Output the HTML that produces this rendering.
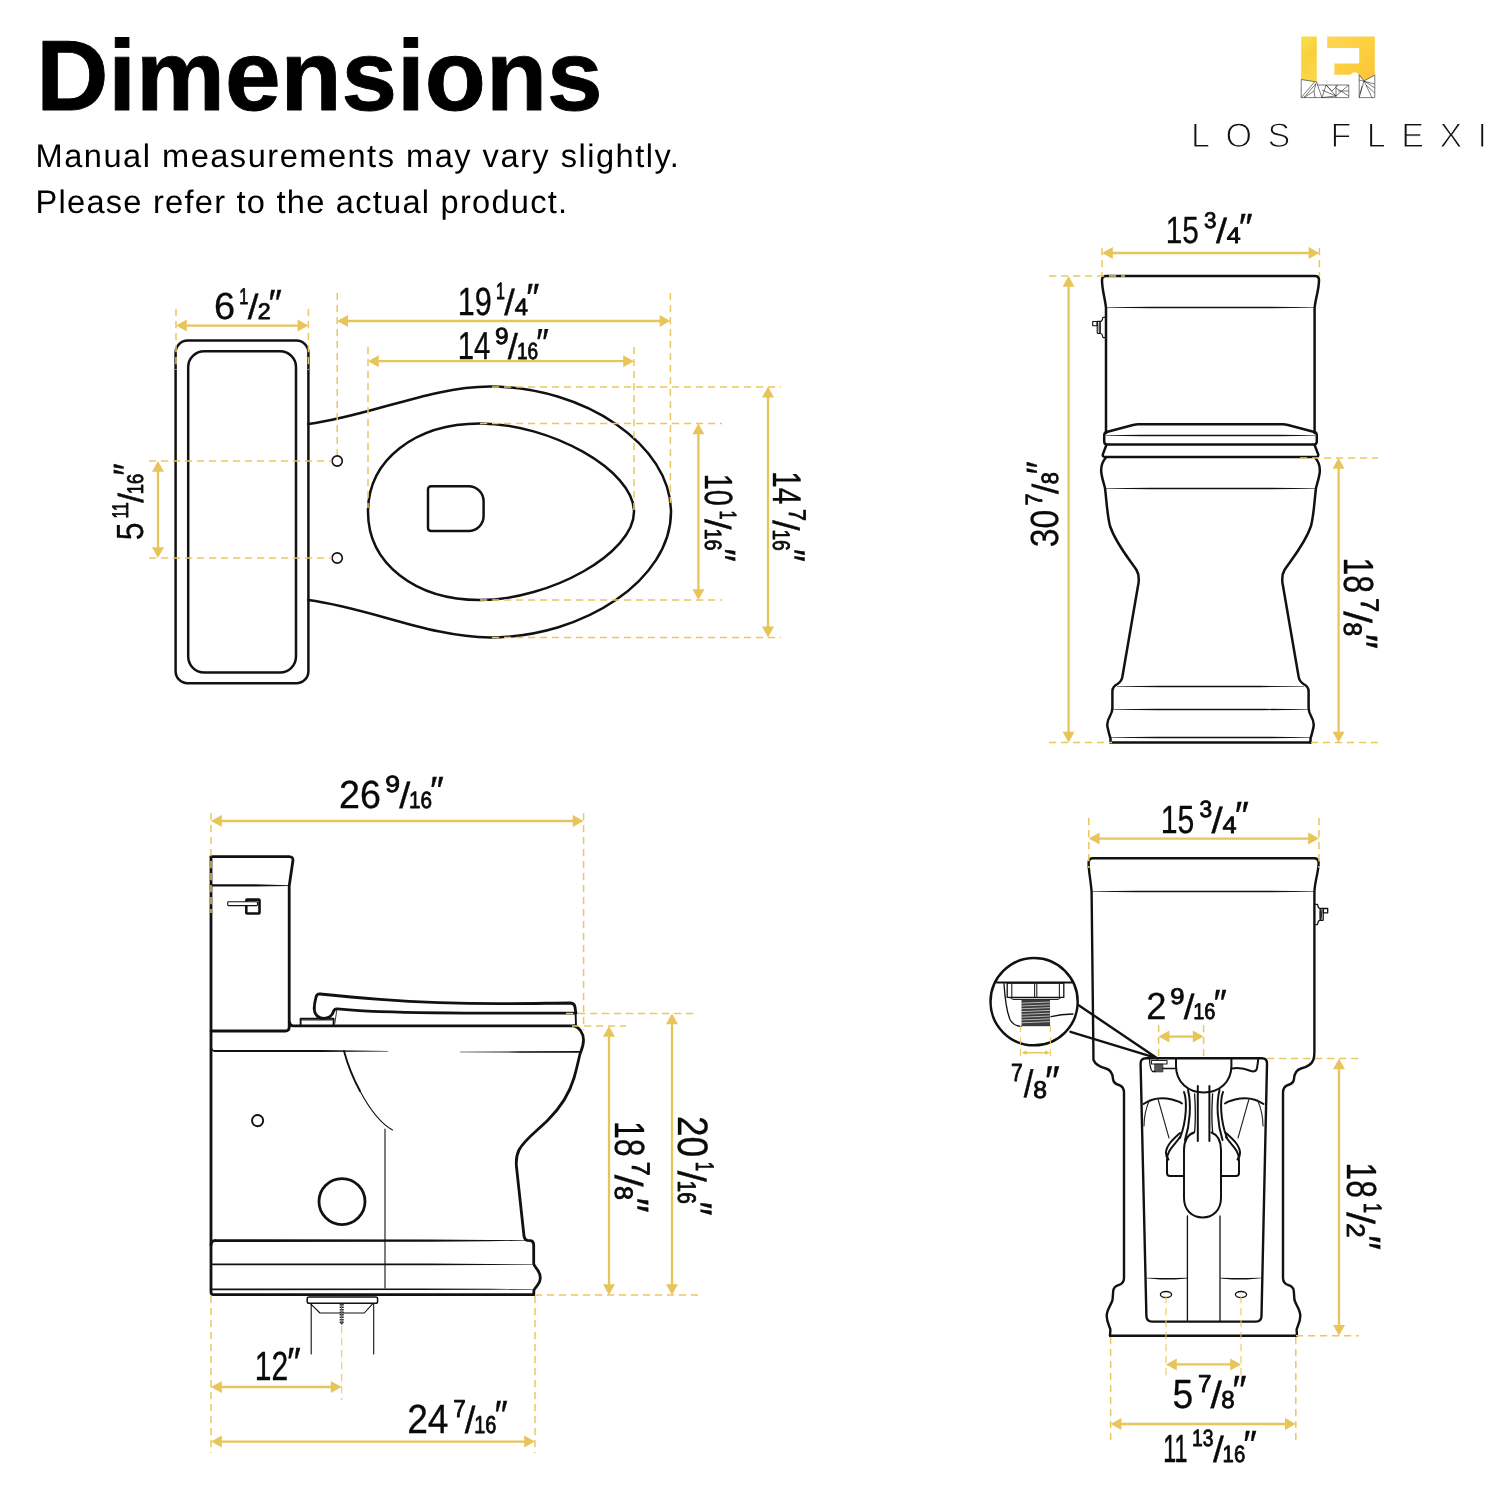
<!DOCTYPE html>
<html lang="en">
<head>
<meta charset="utf-8">
<title>Dimensions</title>
<style>
html,body{margin:0;padding:0;background:#fff;}
body{width:1500px;height:1500px;overflow:hidden;font-family:"Liberation Sans",sans-serif;}
svg{display:block;will-change:transform;transform:translateZ(0);}
text{font-family:"Liberation Sans",sans-serif;fill:#000;text-rendering:geometricPrecision;}
.dim{fill:#0a0a0a;}
.sm{stroke:#0a0a0a;stroke-width:0.85;stroke-linejoin:round;}
.sl{stroke:#0a0a0a;stroke-width:0.4;}
.thin{fill:#111;stroke:#fff;paint-order:fill stroke;}
.o{fill:none;stroke:#111;stroke-width:2.5;stroke-linejoin:round;stroke-linecap:round;}
.m{fill:none;stroke:#111;stroke-width:1.6;stroke-linejoin:round;stroke-linecap:round;}
.t{fill:none;stroke:#111;stroke-width:1.1;stroke-linejoin:round;stroke-linecap:round;}
.h{fill:none;stroke:#222;stroke-width:0.9;stroke-linejoin:round;stroke-linecap:round;}
#frontview .o{stroke-width:2.5;}
#sideview .o{stroke-width:2.8;}
#rearview .o{stroke-width:2.4;}
#sideview .m{stroke-width:1.9;}
#rearview .m{stroke-width:2.0;}
#rearview .t{stroke-width:1.3;}
#rearview .h{stroke-width:1.1;}
</style>
</head>
<body>
<svg width="1500" height="1500" viewBox="0 0 1500 1500">
<rect width="1500" height="1500" fill="#fff"/>

<text x="36.2" y="109.6" font-size="100" font-weight="bold" letter-spacing="-0.05" stroke="#000" stroke-width="0.9" stroke-linejoin="round">Dimensions</text>
<text x="35.6" y="167" font-size="32.6" letter-spacing="1.5">Manual measurements may vary slightly.</text>
<text x="35.6" y="213" font-size="32.6" letter-spacing="1.25">Please refer to the actual product.</text>
<defs>
<linearGradient id="g1" x1="0" y1="0" x2="0.3" y2="1"><stop offset="0" stop-color="#f7e24a"/><stop offset="0.5" stop-color="#f9cf3c"/><stop offset="1" stop-color="#fbd648"/></linearGradient>
<linearGradient id="g2" x1="0" y1="0" x2="1" y2="1"><stop offset="0" stop-color="#ffd654"/><stop offset="0.5" stop-color="#fcd040"/><stop offset="1" stop-color="#fcc336"/></linearGradient>
</defs>
<path d="M1301.2,36.4H1316.8V82L1301.2,79.5Z" fill="url(#g1)"/>
<path d="M1327.2,36.4H1374.8V75.2L1364,80.8L1356.8,72.4H1352.8L1350.4,74.8H1334.4V63.6H1359.2V48H1327.2Z" fill="url(#g2)"/>
<g fill="none" stroke="#222" stroke-width="0.6" stroke-linejoin="round"><path d="M1301.2,79.5L1316.8,82L1317.5,85H1348.8V97.6H1301.2Z"/><path d="M1301.2,97.6L1314.5,82M1304,97.6L1316,83.5M1304,97.6L1314,91L1316,83.5M1314,91L1315,97.6M1317.5,85L1322,97.6M1322,97.6L1326,85M1326,85L1336,96L1322,90M1322,97.6L1336,96M1336,85V97.6M1336,96L1348.8,85M1336,88L1348.8,96M1338,91L1348.8,91M1326,85L1332,91L1338,85"/><path d="M1359.2,74.8V97.6H1374.8V75.2L1364,80.8L1359.2,74.8Z"/><path d="M1359.2,97.6L1364,80.8L1372,97.6M1364,80.8L1374.8,88M1359.2,80L1374.8,84M1366,85L1374.8,93M1360,94L1362,86"/></g>
<text x="1191" y="146.6" font-size="34.2" letter-spacing="15.4" class="thin" stroke-width="1.15">LOS FLEXI</text>
<g id="topview">
<rect class="o" x="175.6" y="340.6" width="132.8" height="342.6" rx="12" ry="12"/>
<rect class="o" x="188.2" y="351.2" width="107.8" height="321.4" rx="16" ry="16"/>
<path class="o" d="M308.4,424C370,416 430,386.6 490,386.6C585,386.6 671,445 671,512C671,579 585,637.4 490,637.4C430,637.4 370,608 308.4,600"/>
<path class="o" d="M368,511.7C368,460 415,423.4 480,423.4C550,423.4 634,470 634,511.7C634,553.4 550,600 480,600C415,600 368,563.4 368,511.7Z"/>
<path class="o" d="M431,486.3H468.6A15,15 0 0 1 483.6,501.3V516A15,15 0 0 1 468.6,531H431A3,3 0 0 1 428,528V489.3A3,3 0 0 1 431,486.3Z"/>
<circle class="m" cx="337.2" cy="461" r="5.1" stroke-width="2.2"/><circle class="m" cx="337.2" cy="558" r="5.1" stroke-width="2.2"/>
</g>
<g id="frontview">
<path class="o" d="M1106,433V308C1105,298 1102,290 1102,280Q1102,276 1106,276H1315Q1319,276 1319,280C1319,290 1315.5,298 1314.6,308V433"/>
<polygon points="1106.0,307.27 1151.0,306.80 1269.6,306.80 1314.6,307.27 1314.6,307.73 1269.6,308.20 1151.0,308.20 1106.0,307.73" fill="#111"/>
<path class="t" stroke-width="1.2" d="M1105.5,317.4H1103.2Q1102.4,317.6 1102.4,319.4Q1102.3,321 1100.2,321.6M1105.5,337.6H1103.3Q1102.6,337.4 1102.5,335.6Q1102.3,333.8 1100.2,333.2"/><rect class="t" stroke-width="1.2" x="1097.2" y="321.4" width="3" height="12" rx="0.6"/><ellipse class="h" cx="1099.6" cy="327.5" rx="0.6" ry="5.2"/><rect class="t" stroke-width="1.5" x="1092.7" y="321.5" width="4.4" height="4.3"/>
<path class="o" d="M1106.6,432L1134,424.8Q1136,424.2 1138,424.2H1283Q1285,424.2 1287,424.8L1314.4,432"/>
<path class="o" d="M1106.6,432Q1104.2,432.6 1104.2,435.5V441.5Q1104.2,444.4 1107,444.4H1314Q1316.8,444.4 1316.8,441.5V435.5Q1316.8,432.6 1314.4,432"/>
<polygon points="1106.0,435.27 1141.0,434.80 1280.0,434.80 1315.0,435.27 1315.0,435.73 1280.0,436.20 1141.0,436.20 1106.0,435.73" fill="#111"/>
<path class="o" d="M1106.3,445.2L1102.8,454.4Q1102.4,456.9 1105,456.9H1316Q1318.6,456.9 1318.2,454.4L1314.7,445.2"/>
<path class="o" d="M1106,457.5C1102,462 1100.5,468 1101.5,474C1102.5,480 1104,484 1105,488C1106.5,500 1107,514 1110,526C1116,544 1130,560 1136.5,570Q1139.5,575 1138.5,583L1122.5,676Q1122,681 1117.5,684Q1112.6,686.5 1112.4,691V708Q1112.3,712 1110,716Q1106.5,722 1107.5,727Q1109,734 1110.5,738.5V742.4M1315,457.5C1319,462 1320.5,468 1319.5,474C1318.5,480 1317,484 1316,488C1314.5,500 1314,514 1311,526C1305,544 1291,560 1284.5,570Q1281.5,575 1282.5,583L1298.5,676Q1299,681 1303.5,684Q1308.4,686.5 1308.6,691V708Q1308.7,712 1311,716Q1314.5,722 1313.5,727Q1312,734 1310.5,738.5V742.4"/>
<polygon points="1105.0,488.27 1150.0,487.80 1271.0,487.80 1316.0,488.27 1316.0,488.73 1271.0,489.20 1150.0,489.20 1105.0,488.73" fill="#111"/>
<polygon points="1117.0,686.27 1162.0,685.80 1259.0,685.80 1304.0,686.27 1304.0,686.73 1259.0,687.20 1162.0,687.20 1117.0,686.73" fill="#111"/>
<polygon points="1112.5,709.27 1157.5,708.80 1263.5,708.80 1308.5,709.27 1308.5,709.73 1263.5,710.20 1157.5,710.20 1112.5,709.73" fill="#111"/>
<polygon points="1111.0,737.27 1156.0,736.80 1265.0,736.80 1310.0,737.27 1310.0,737.73 1265.0,738.20 1156.0,738.20 1111.0,737.73" fill="#111"/>
<path class="o" d="M1110.5,742.6H1310.5" stroke-width="2"/>
</g>
<g id="sideview">
<path class="o" d="M211,856.6H289.2Q293.3,856.6 292.9,860.8L289.2,886V1027.5Q289,1031 285.5,1031H211"/>
<path class="o" d="M211,856.6V1292Q211,1294.7 213.5,1294.7H533.5"/>
<polygon points="211.0,884.25 255.0,884.35 289.0,885.30 289.0,885.90 255.0,886.45 211.0,886.55" fill="#111"/>
<rect x="246.3" y="899.6" width="13.2" height="13.9" rx="0.8" fill="#fff" stroke="#111" stroke-width="2.6"/>
<rect x="227.7" y="901.7" width="29.8" height="3.9" rx="0.8" fill="#fff" stroke="#111" stroke-width="1.1"/>
<path class="o" d="M289.6,1022.5Q290,1025.8 293,1025.8H574"/>
<path class="m" d="M211,1047Q211.5,1051 215,1051"/>
<polygon points="214.5,1050.05 320.0,1050.05 388.0,1051.00 388.0,1051.40 320.0,1051.95 214.5,1051.95" fill="#111"/>
<polygon points="460.0,1051.80 520.0,1051.30 580.0,1050.95 580.0,1052.65 520.0,1052.70 460.0,1052.20" fill="#111"/>
<path class="m" d="M300.6,1025V1018.8H333.6V1025"/><path class="t" d="M302,1020.3H332" stroke-opacity="0.6"/>
<path class="o" d="M314.2,1008C314.5,1003 315.5,999 316.2,996.5Q317,993.8 320,994C340,996 360,997.8 380,999.3C420,1002.3 460,1003.6 500,1003.6C530,1003.6 555,1003 570.5,1003Q574.4,1003.2 575,1007L575.8,1012.8"/>
<path class="o" d="M314.2,1008C314,1014 318,1018.4 323.5,1018.4C329,1018.4 332.5,1015 333.5,1011.5Q334.3,1008.6 337,1008.8C350,1009.8 365,1011 380,1011.7C420,1013 460,1013.2 500,1013.2H576"/>
<path class="h" d="M336.8,1010L334.8,1023.5"/>
<path class="m" d="M575.6,1013L576,1025.6" stroke-width="1.5"/>
<path class="o" d="M574,1025.8C579,1027 583.5,1033 583.5,1040C583.5,1046 581.5,1050 580,1054C578,1062 577,1068 574,1078C569,1095 560,1108 548,1120C538,1130 524,1140 519,1150Q515.5,1157 516.5,1167L524,1236Q524.4,1239.8 527.5,1240.3L530.5,1240.6Q533.7,1241 533.7,1245V1263.5C534,1267.5 540.3,1270 540.3,1277.6C540.3,1285 534.6,1287 533.9,1290.5L533.7,1294.6"/>
<path class="m" d="M344,1051C348,1066 354,1080 360,1091" stroke-width="1.7"/><path class="t" d="M360,1091C368,1106 378,1122 392.5,1130"/>
<path class="t" d="M385,1129V1288"/>
<circle class="m" cx="257.6" cy="1120.6" r="5.6"/>
<circle class="o" cx="342" cy="1201.6" r="23"/>
<path class="o" d="M211,1245Q211.3,1240.6 215,1240.6"/>
<polygon points="214.5,1239.30 430.0,1239.40 490.0,1240.05 526.0,1240.15 526.0,1240.65 490.0,1241.15 430.0,1241.80 214.5,1241.90" fill="#111"/>
<polygon points="211.0,1263.45 430.0,1263.55 490.0,1263.90 533.0,1264.00 533.0,1264.60 490.0,1264.90 430.0,1265.25 211.0,1265.35" fill="#111"/>
<polygon points="212.0,1288.45 420.0,1288.50 490.0,1288.85 535.0,1288.95 535.0,1289.45 490.0,1289.75 420.0,1290.10 212.0,1290.15" fill="#111"/>
<rect x="307.2" y="1296.9" width="70.4" height="6.3" rx="1.8" fill="#fff" stroke="#111" stroke-width="1.5"/>
<path class="t" stroke-width="1.3" d="M310.6,1303.8L320,1313H364.3L372.6,1303.8"/>
<path class="t" stroke-width="1.1" d="M311.2,1304V1354M373.7,1304V1354"/>
<path d="M341.7,1304V1323.2" stroke="#222" stroke-width="4" stroke-dasharray="1.5 1" fill="none"/><path d="M340.2,1323L341.7,1325L343.2,1323Z" fill="#333"/><path d="M341.7,1304V1323" stroke="#777" stroke-width="1.2" fill="none"/>
</g>
<g id="rearview">
<path class="o" d="M1110,1335.8H1297"/>
<path class="o" d="M1110,1335.8L1110.4,1329.5C1109.5,1326 1106.7,1322 1106.7,1316C1106.7,1309 1112,1304 1112.6,1299.5L1113.2,1291Q1113.6,1286.8 1118.5,1285.2Q1124,1283.5 1124,1278V1093Q1124,1086.5 1119,1085Q1113.5,1083.5 1113,1079Q1112.5,1070.5 1106,1068.5Q1096,1066 1093.5,1060Q1093.4,1057 1093.4,1052L1091.6,892C1090.8,880 1088.6,872 1088.6,863Q1088.6,858.3 1093,858.3H1314Q1318.6,858.3 1318.6,863C1318.6,872 1315,880 1314.4,892V1052Q1314.4,1057 1313.3,1060Q1311,1066 1301,1068.5Q1294.5,1070.5 1294,1079Q1293.5,1083.5 1288,1085Q1283,1086.5 1283,1093V1278Q1283,1283.5 1288.5,1285.2Q1293.4,1286.8 1293.8,1291L1294.4,1299.5C1295,1304 1300.3,1309 1300.3,1316C1300.3,1322 1297.5,1326 1296.6,1329.5L1297,1335.8"/>
<polygon points="1092.0,891.27 1137.0,890.80 1269.4,890.80 1314.4,891.27 1314.4,891.73 1269.4,892.20 1137.0,892.20 1092.0,891.73" fill="#111"/>
<g transform="translate(2420.4,587) scale(-1,1)"><path class="t" stroke-width="1.2" d="M1105.5,317.4H1103.2Q1102.4,317.6 1102.4,319.4Q1102.3,321 1100.2,321.6M1105.5,337.6H1103.3Q1102.6,337.4 1102.5,335.6Q1102.3,333.8 1100.2,333.2"/><rect class="t" stroke-width="1.2" x="1097.2" y="321.4" width="3" height="12" rx="0.6"/><ellipse class="h" cx="1099.6" cy="327.5" rx="0.6" ry="5.2"/><rect class="t" stroke-width="1.5" x="1092.7" y="321.5" width="4.4" height="4.3"/></g>
<path class="o" d="M1146,1058.2H1262Q1267.2,1058.2 1267,1064L1261.5,1316Q1261.3,1321.6 1256,1321.6H1152Q1146.6,1321.6 1146.4,1316L1140.6,1064Q1140.5,1058.2 1146,1058.2Z"/>
<path d="M1154.5,1064H1163V1072H1154.5Z" fill="#555" stroke="#333" stroke-width="0.6"/>
<path class="h" d="M1151.5,1060.5H1167V1064H1151.5Z"/>
<path class="t" d="M1149.5,1059C1149.8,1066 1150.5,1070 1152.5,1071.5H1155M1163,1068.5H1176"/>
<path class="m" d="M1176,1059V1066C1176,1082 1188,1092.4 1203.6,1092.4C1219.5,1092.4 1231.4,1082 1231.4,1066V1059"/>
<path class="m" d="M1232,1068.5C1240,1067 1246,1069 1251,1071C1254,1072 1256.5,1071 1257,1068C1257.8,1064 1258,1061 1258.2,1059"/>
<path class="m" d="M1197.8,1086V1141M1209.4,1086V1141"/>
<path class="t" d="M1194.6,1094C1195.5,1108 1195.5,1122 1194.6,1132M1212.6,1094C1211.7,1108 1211.7,1122 1212.6,1132"/>
<path class="m" d="M1184,1092C1187,1100 1187,1120 1180,1138M1223,1092C1220,1100 1220,1120 1227,1138"/>
<path class="m" d="M1188,1090C1191.5,1104 1190,1124 1185,1140M1219.5,1090C1216,1104 1217.5,1124 1222.5,1140"/>
<path class="m" d="M1194,1132.5C1187,1135 1184,1141 1184,1150V1198C1184,1210 1192,1217.4 1202.6,1217.4C1213,1217.4 1221,1210 1221,1198V1150C1221,1141 1218,1135 1211.5,1132.5"/>
<path class="m" d="M1184,1176H1170Q1167,1176 1167,1173V1160C1167,1150 1174,1146 1180,1137M1221,1176H1236Q1239,1176 1239,1173V1160C1239,1150 1232,1146 1226,1137"/>
<path class="m" d="M1180,1133C1172,1140 1166,1146 1166,1153C1166,1156 1167,1158 1168.5,1159.5M1226,1133C1234,1140 1240,1146 1240,1153C1240,1156 1239,1158 1237.5,1159.5"/>
<path class="m" d="M1143.5,1104C1152,1098 1162,1097 1172,1099.5C1176,1100.5 1180,1102 1182,1103.5M1263.5,1104C1255,1098 1245,1097 1235,1099.5C1231,1100.5 1227,1102 1225,1103.5"/>
<path class="h" d="M1149.5,1100C1146,1108 1144,1116 1144,1126M1158,1099L1169,1138M1257.5,1100C1261,1108 1263,1116 1263,1126M1249,1099L1238,1138"/>
<path class="t" d="M1187.4,1216V1321M1220,1216V1321"/>
<polygon points="1146.5,1277.80 1160.0,1277.95 1175.0,1277.95 1187.0,1277.80 1187.0,1278.60 1175.0,1279.45 1160.0,1279.45 1146.5,1278.20" fill="#111"/>
<polygon points="1220.5,1277.80 1232.0,1277.95 1247.0,1277.95 1261.0,1277.80 1261.0,1278.20 1247.0,1279.45 1232.0,1279.45 1220.5,1278.60" fill="#111"/>
<ellipse class="t" cx="1166" cy="1294.6" rx="5.6" ry="3.1"/><ellipse class="t" cx="1241" cy="1294.6" rx="5.6" ry="3.1"/>
<circle cx="1034.1" cy="1001.7" r="43.6" fill="#fff" stroke="#111" stroke-width="2.5"/>
<path class="o" d="M1078.3,1005L1157.5,1058.4L1070.5,1031.8"/>
<path class="m" d="M997,982.6H1071.6"/>
<path class="t" d="M1007.2,983H1063.8V997.4H1007.2Z"/>
<path class="h" d="M1011.8,984V997M1034.6,984V997M1036.8,984V997M1059.4,984V997M1010,997.6L1013,999.4H1058L1061,997.6"/>
<path d="M1021.5,999.6H1050V1026.2H1021.5Z" fill="#3a3a3a"/>
<path d="M1021,1003.2L1050.5,1002M1021,1006L1050.5,1004.8M1021,1008.8L1050.5,1007.6M1021,1011.6L1050.5,1010.4M1021,1014.4L1050.5,1013.2M1021,1017.2L1050.5,1016M1021,1020L1050.5,1018.8M1021,1022.8L1050.5,1021.6" stroke="#d8d8d8" stroke-width="0.8" fill="none"/>
<path class="t" d="M1004,983.6C1005,1000 1007,1012 1010,1019.5C1012.5,1024.5 1016,1026 1021,1026.4M1051,1016.6C1058,1015 1066,1014.2 1073,1014"/>
</g>
<g id="dashes">
<path d="M176.0,309.0L176.0,370.0" stroke="#e9c860" stroke-width="1.5" stroke-dasharray="7.2 4.8" fill="none"/>
<path d="M308.4,309.0L308.4,370.0" stroke="#e9c860" stroke-width="1.5" stroke-dasharray="7.2 4.8" fill="none"/>
<path d="M337.2,293.0L337.2,455.0" stroke="#e9c860" stroke-width="1.5" stroke-dasharray="7.2 4.8" fill="none"/>
<path d="M670.4,293.0L670.4,503.0" stroke="#e9c860" stroke-width="1.5" stroke-dasharray="7.2 4.8" fill="none"/>
<path d="M368.0,347.0L368.0,508.0" stroke="#e9c860" stroke-width="1.5" stroke-dasharray="7.2 4.8" fill="none"/>
<path d="M634.0,347.0L634.0,510.0" stroke="#e9c860" stroke-width="1.5" stroke-dasharray="7.2 4.8" fill="none"/>
<path d="M149.0,461.0L332.0,461.0" stroke="#e9c860" stroke-width="1.5" stroke-dasharray="7.2 4.8" fill="none"/>
<path d="M149.0,558.0L332.0,558.0" stroke="#e9c860" stroke-width="1.5" stroke-dasharray="7.2 4.8" fill="none"/>
<path d="M492.0,386.9L781.0,386.9" stroke="#e9c860" stroke-width="1.5" stroke-dasharray="7.2 4.8" fill="none"/>
<path d="M492.0,637.4L781.0,637.4" stroke="#e9c860" stroke-width="1.5" stroke-dasharray="7.2 4.8" fill="none"/>
<path d="M480.0,423.4L722.0,423.4" stroke="#e9c860" stroke-width="1.5" stroke-dasharray="7.2 4.8" fill="none"/>
<path d="M480.0,600.0L722.0,600.0" stroke="#e9c860" stroke-width="1.5" stroke-dasharray="7.2 4.8" fill="none"/>
<path d="M1102.0,248.0L1102.0,276.0" stroke="#e9c860" stroke-width="1.5" stroke-dasharray="7.2 4.8" fill="none"/>
<path d="M1319.4,248.0L1319.4,276.0" stroke="#e9c860" stroke-width="1.5" stroke-dasharray="7.2 4.8" fill="none"/>
<path d="M1049.0,276.0L1125.0,276.0" stroke="#e9c860" stroke-width="1.5" stroke-dasharray="7.2 4.8" fill="none"/>
<path d="M1049.0,742.6L1112.0,742.6" stroke="#e9c860" stroke-width="1.5" stroke-dasharray="7.2 4.8" fill="none"/>
<path d="M1300.0,458.0L1378.0,458.0" stroke="#e9c860" stroke-width="1.5" stroke-dasharray="7.2 4.8" fill="none"/>
<path d="M1311.0,742.6L1378.0,742.6" stroke="#e9c860" stroke-width="1.5" stroke-dasharray="7.2 4.8" fill="none"/>
<path d="M211.0,813.0L211.0,913.0" stroke="#e9c860" stroke-width="1.5" stroke-dasharray="7.2 4.8" fill="none"/>
<path d="M583.6,813.0L583.6,1030.0" stroke="#e9c860" stroke-width="1.5" stroke-dasharray="7.2 4.8" fill="none"/>
<path d="M566.0,1013.4L698.0,1013.4" stroke="#e9c860" stroke-width="1.5" stroke-dasharray="7.2 4.8" fill="none"/>
<path d="M572.0,1026.0L626.0,1026.0" stroke="#e9c860" stroke-width="1.5" stroke-dasharray="7.2 4.8" fill="none"/>
<path d="M535.0,1295.0L698.0,1295.0" stroke="#e9c860" stroke-width="1.5" stroke-dasharray="7.2 4.8" fill="none"/>
<path d="M211.0,1296.0L211.0,1453.0" stroke="#e9c860" stroke-width="1.5" stroke-dasharray="7.2 4.8" fill="none"/>
<path d="M535.0,1296.0L535.0,1453.0" stroke="#e9c860" stroke-width="1.5" stroke-dasharray="7.2 4.8" fill="none"/>
<path d="M341.7,1326.0L341.7,1400.0" stroke="#e9c860" stroke-width="1.1" stroke-dasharray="7.2 4.8" fill="none"/>
<path d="M1088.8,818.0L1088.8,868.0" stroke="#e9c860" stroke-width="1.5" stroke-dasharray="7.2 4.8" fill="none"/>
<path d="M1319.0,818.0L1319.0,868.0" stroke="#e9c860" stroke-width="1.5" stroke-dasharray="7.2 4.8" fill="none"/>
<path d="M1158.6,1025.0L1158.6,1059.0" stroke="#e9c860" stroke-width="1.5" stroke-dasharray="7.2 4.8" fill="none"/>
<path d="M1203.6,1025.0L1203.6,1059.0" stroke="#e9c860" stroke-width="1.5" stroke-dasharray="7.2 4.8" fill="none"/>
<path d="M1020.4,1025.0L1020.4,1060.0" stroke="#e9c860" stroke-width="1.0" stroke-dasharray="7.2 4.8" fill="none"/>
<path d="M1050.4,1025.0L1050.4,1060.0" stroke="#e9c860" stroke-width="1.0" stroke-dasharray="7.2 4.8" fill="none"/>
<path d="M1267.0,1058.4L1358.0,1058.4" stroke="#e9c860" stroke-width="1.5" stroke-dasharray="7.2 4.8" fill="none"/>
<path d="M1296.0,1335.8L1359.0,1335.8" stroke="#e9c860" stroke-width="1.5" stroke-dasharray="7.2 4.8" fill="none"/>
<path d="M1166.0,1296.0L1166.0,1377.0" stroke="#e9c860" stroke-width="1.1" stroke-dasharray="7.2 4.8" fill="none"/>
<path d="M1241.0,1296.0L1241.0,1377.0" stroke="#e9c860" stroke-width="1.1" stroke-dasharray="7.2 4.8" fill="none"/>
<path d="M1110.6,1337.0L1110.6,1440.0" stroke="#e9c860" stroke-width="1.5" stroke-dasharray="7.2 4.8" fill="none"/>
<path d="M1295.8,1337.0L1295.8,1440.0" stroke="#e9c860" stroke-width="1.5" stroke-dasharray="7.2 4.8" fill="none"/>
</g>
<g id="arrows">
<path d="M185.8,325.6H298.6" stroke="#e8c55a" stroke-width="2.3" fill="none"/>
<path d="M176.0,325.6l10.8,-6.0v12.0z M308.4,325.6l-10.8,-6.0v12.0z" fill="#e8c55a"/>
<path d="M347.0,321.0H660.6" stroke="#e8c55a" stroke-width="2.3" fill="none"/>
<path d="M337.2,321.0l10.8,-6.0v12.0z M670.4,321.0l-10.8,-6.0v12.0z" fill="#e8c55a"/>
<path d="M377.8,361.2H624.2" stroke="#e8c55a" stroke-width="2.3" fill="none"/>
<path d="M368.0,361.2l10.8,-6.0v12.0z M634.0,361.2l-10.8,-6.0v12.0z" fill="#e8c55a"/>
<path d="M158.0,470.8V548.2" stroke="#e8c55a" stroke-width="2.3" fill="none"/>
<path d="M158.0,461.0l-6.0,10.8h12.0z M158.0,558.0l-6.0,-10.8h12.0z" fill="#e8c55a"/>
<path d="M698.4,433.2V590.2" stroke="#e8c55a" stroke-width="2.3" fill="none"/>
<path d="M698.4,423.4l-6.0,10.8h12.0z M698.4,600.0l-6.0,-10.8h12.0z" fill="#e8c55a"/>
<path d="M768.0,396.4V627.6" stroke="#e8c55a" stroke-width="2.3" fill="none"/>
<path d="M768.0,386.6l-6.0,10.8h12.0z M768.0,637.4l-6.0,-10.8h12.0z" fill="#e8c55a"/>
<path d="M1111.8,253.0H1309.6" stroke="#e8c55a" stroke-width="2.3" fill="none"/>
<path d="M1102.0,253.0l10.8,-6.0v12.0z M1319.4,253.0l-10.8,-6.0v12.0z" fill="#e8c55a"/>
<path d="M1068.6,285.8V732.8" stroke="#e8c55a" stroke-width="2.3" fill="none"/>
<path d="M1068.6,276.0l-6.0,10.8h12.0z M1068.6,742.6l-6.0,-10.8h12.0z" fill="#e8c55a"/>
<path d="M1338.6,467.8V732.8" stroke="#e8c55a" stroke-width="2.3" fill="none"/>
<path d="M1338.6,458.0l-6.0,10.8h12.0z M1338.6,742.6l-6.0,-10.8h12.0z" fill="#e8c55a"/>
<path d="M220.8,821.0H573.8" stroke="#e8c55a" stroke-width="2.3" fill="none"/>
<path d="M211.0,821.0l10.8,-6.0v12.0z M583.6,821.0l-10.8,-6.0v12.0z" fill="#e8c55a"/>
<path d="M609.0,1035.8V1285.2" stroke="#e8c55a" stroke-width="2.3" fill="none"/>
<path d="M609.0,1026.0l-6.0,10.8h12.0z M609.0,1295.0l-6.0,-10.8h12.0z" fill="#e8c55a"/>
<path d="M672.0,1023.2V1285.2" stroke="#e8c55a" stroke-width="2.3" fill="none"/>
<path d="M672.0,1013.4l-6.0,10.8h12.0z M672.0,1295.0l-6.0,-10.8h12.0z" fill="#e8c55a"/>
<path d="M220.8,1387.0H331.8" stroke="#e8c55a" stroke-width="2.3" fill="none"/>
<path d="M211.0,1387.0l10.8,-6.0v12.0z M341.6,1387.0l-10.8,-6.0v12.0z" fill="#e8c55a"/>
<path d="M220.8,1441.6H525.2" stroke="#e8c55a" stroke-width="2.3" fill="none"/>
<path d="M211.0,1441.6l10.8,-6.0v12.0z M535.0,1441.6l-10.8,-6.0v12.0z" fill="#e8c55a"/>
<path d="M1025.6,1052.7H1046.0" stroke="#e8c55a" stroke-width="1.5" fill="none"/>
<path d="M1021.6,1052.7l5.0,-2.4v4.8z M1050.0,1052.7l-5.0,-2.4v4.8z" fill="#e8c55a"/>
<path d="M1098.6,838.6H1309.2" stroke="#e8c55a" stroke-width="2.3" fill="none"/>
<path d="M1088.8,838.6l10.8,-6.0v12.0z M1319.0,838.6l-10.8,-6.0v12.0z" fill="#e8c55a"/>
<path d="M1168.4,1036.6H1193.8" stroke="#e8c55a" stroke-width="2.3" fill="none"/>
<path d="M1158.6,1036.6l10.8,-6.0v12.0z M1203.6,1036.6l-10.8,-6.0v12.0z" fill="#e8c55a"/>
<path d="M1339.0,1068.2V1326.0" stroke="#e8c55a" stroke-width="2.3" fill="none"/>
<path d="M1339.0,1058.4l-6.0,10.8h12.0z M1339.0,1335.8l-6.0,-10.8h12.0z" fill="#e8c55a"/>
<path d="M1175.8,1364.4H1231.2" stroke="#e8c55a" stroke-width="2.3" fill="none"/>
<path d="M1166.0,1364.4l10.8,-6.0v12.0z M1241.0,1364.4l-10.8,-6.0v12.0z" fill="#e8c55a"/>
<path d="M1120.4,1424.0H1286.0" stroke="#e8c55a" stroke-width="2.3" fill="none"/>
<path d="M1110.6,1424.0l10.8,-6.0v12.0z M1295.8,1424.0l-10.8,-6.0v12.0z" fill="#e8c55a"/>
</g>
<g id="labels">
<text transform="translate(216.0,319.2)" class="dim"><tspan x="-1.93" y="0.00" font-size="37.79" textLength="21.14" lengthAdjust="spacingAndGlyphs" stroke="#0a0a0a" stroke-width="0.30" stroke-linejoin="round">6</tspan> <tspan x="23.31" y="-15.21" font-size="22.67" textLength="9.05" lengthAdjust="spacingAndGlyphs" class="sm">1</tspan><tspan x="31.87" y="-0.00" font-size="34.87" textLength="10.62" lengthAdjust="spacingAndGlyphs" class="sl">/</tspan><tspan x="41.72" y="0.00" font-size="22.67" textLength="12.92" lengthAdjust="spacingAndGlyphs" class="sm">2</tspan><tspan x="50.64" y="-3.39" font-size="37.96" textLength="13.30" lengthAdjust="spacingAndGlyphs" font-style="italic" class="sl">″</tspan></text>
<text transform="translate(460.0,315.0)" class="dim"><tspan x="-2.33" y="0.00" font-size="39.24" textLength="33.98" lengthAdjust="spacingAndGlyphs" stroke="#0a0a0a" stroke-width="0.33" stroke-linejoin="round">19</tspan> <tspan x="35.92" y="-15.79" font-size="23.55" textLength="8.94" lengthAdjust="spacingAndGlyphs" class="sm">1</tspan><tspan x="44.37" y="-0.00" font-size="36.21" textLength="10.50" lengthAdjust="spacingAndGlyphs" class="sl">/</tspan><tspan x="54.72" y="0.00" font-size="23.55" textLength="13.29" lengthAdjust="spacingAndGlyphs" class="sm">4</tspan><tspan x="64.51" y="-3.52" font-size="39.42" textLength="13.14" lengthAdjust="spacingAndGlyphs" font-style="italic" class="sl">″</tspan></text>
<text transform="translate(460.0,359.2)" class="dim"><tspan x="-2.24" y="0.00" font-size="38.95" textLength="32.68" lengthAdjust="spacingAndGlyphs" stroke="#0a0a0a" stroke-width="0.37" stroke-linejoin="round">14</tspan> <tspan x="35.11" y="-15.68" font-size="23.37" textLength="13.60" lengthAdjust="spacingAndGlyphs" class="sm">9</tspan><tspan x="47.84" y="-0.00" font-size="35.95" textLength="10.11" lengthAdjust="spacingAndGlyphs" class="sl">/</tspan><tspan x="56.89" y="0.00" font-size="23.37" textLength="21.18" lengthAdjust="spacingAndGlyphs" class="sm">16</tspan><tspan x="74.53" y="-3.50" font-size="39.13" textLength="12.66" lengthAdjust="spacingAndGlyphs" font-style="italic" class="sl">″</tspan></text>
<text transform="translate(143.0,539.0) rotate(-90)" class="dim"><tspan x="-1.28" y="0.00" font-size="37.79" textLength="17.77" lengthAdjust="spacingAndGlyphs" stroke="#0a0a0a" stroke-width="0.30" stroke-linejoin="round">5</tspan> <tspan x="20.47" y="-15.21" font-size="22.67" textLength="16.13" lengthAdjust="spacingAndGlyphs" class="sm">11</tspan><tspan x="36.17" y="-0.00" font-size="34.87" textLength="9.73" lengthAdjust="spacingAndGlyphs" class="sl">/</tspan><tspan x="44.87" y="0.00" font-size="22.67" textLength="20.38" lengthAdjust="spacingAndGlyphs" class="sm">16</tspan><tspan x="61.84" y="-3.39" font-size="37.96" textLength="12.18" lengthAdjust="spacingAndGlyphs" font-style="italic" class="sl">″</tspan></text>
<text transform="translate(704.5,476.0) rotate(90)" class="dim"><tspan x="-2.20" y="0.00" font-size="39.24" textLength="32.12" lengthAdjust="spacingAndGlyphs" stroke="#0a0a0a" stroke-width="0.40" stroke-linejoin="round">10</tspan> <tspan x="34.52" y="-15.79" font-size="23.55" textLength="8.97" lengthAdjust="spacingAndGlyphs" class="sm">1</tspan><tspan x="43.00" y="-0.00" font-size="36.21" textLength="10.53" lengthAdjust="spacingAndGlyphs" class="sl">/</tspan><tspan x="52.41" y="0.00" font-size="23.55" textLength="22.04" lengthAdjust="spacingAndGlyphs" class="sm">16</tspan><tspan x="70.77" y="-3.52" font-size="39.42" textLength="13.18" lengthAdjust="spacingAndGlyphs" font-style="italic" class="sl">″</tspan></text>
<text transform="translate(773.0,473.5) rotate(90)" class="dim"><tspan x="-2.26" y="0.00" font-size="39.97" textLength="32.99" lengthAdjust="spacingAndGlyphs" stroke="#0a0a0a" stroke-width="0.39" stroke-linejoin="round">14</tspan> <tspan x="35.49" y="-16.09" font-size="23.98" textLength="12.07" lengthAdjust="spacingAndGlyphs" class="sm">7</tspan><tspan x="46.76" y="-0.00" font-size="36.89" textLength="10.21" lengthAdjust="spacingAndGlyphs" class="sl">/</tspan><tspan x="55.89" y="0.00" font-size="23.98" textLength="21.38" lengthAdjust="spacingAndGlyphs" class="sm">16</tspan><tspan x="73.70" y="-3.59" font-size="40.15" textLength="12.78" lengthAdjust="spacingAndGlyphs" font-style="italic" class="sl">″</tspan></text>
<text transform="translate(1168.0,243.0)" class="dim"><tspan x="-2.27" y="0.00" font-size="37.79" textLength="33.19" lengthAdjust="spacingAndGlyphs" stroke="#0a0a0a" stroke-width="0.32" stroke-linejoin="round">15</tspan> <tspan x="36.10" y="-15.21" font-size="22.67" textLength="12.50" lengthAdjust="spacingAndGlyphs" class="sm">3</tspan><tspan x="47.92" y="-0.00" font-size="34.87" textLength="11.03" lengthAdjust="spacingAndGlyphs" class="sl">/</tspan><tspan x="58.80" y="0.00" font-size="22.67" textLength="13.97" lengthAdjust="spacingAndGlyphs" class="sm">4</tspan><tspan x="69.08" y="-3.39" font-size="37.96" textLength="13.81" lengthAdjust="spacingAndGlyphs" font-style="italic" class="sl">″</tspan></text>
<text transform="translate(1058.0,546.0) rotate(-90)" class="dim"><tspan x="-1.28" y="0.00" font-size="39.24" textLength="37.52" lengthAdjust="spacingAndGlyphs" stroke="#0a0a0a" stroke-width="0.30" stroke-linejoin="round">30</tspan> <tspan x="40.59" y="-15.79" font-size="23.55" textLength="12.15" lengthAdjust="spacingAndGlyphs" class="sm">7</tspan><tspan x="51.93" y="-0.00" font-size="36.21" textLength="10.28" lengthAdjust="spacingAndGlyphs" class="sl">/</tspan><tspan x="61.65" y="0.00" font-size="23.55" textLength="12.14" lengthAdjust="spacingAndGlyphs" class="sm">8</tspan><tspan x="70.10" y="-3.52" font-size="39.42" textLength="12.87" lengthAdjust="spacingAndGlyphs" font-style="italic" class="sl">″</tspan></text>
<text transform="translate(1344.0,560.0) rotate(90)" class="dim"><tspan x="-2.43" y="0.00" font-size="42.15" textLength="35.53" lengthAdjust="spacingAndGlyphs" stroke="#0a0a0a" stroke-width="0.37" stroke-linejoin="round">18</tspan> <tspan x="38.21" y="-16.96" font-size="25.29" textLength="13.94" lengthAdjust="spacingAndGlyphs" class="sm">7</tspan><tspan x="51.22" y="-0.00" font-size="38.90" textLength="11.79" lengthAdjust="spacingAndGlyphs" class="sl">/</tspan><tspan x="62.37" y="0.00" font-size="25.29" textLength="13.92" lengthAdjust="spacingAndGlyphs" class="sm">8</tspan><tspan x="72.06" y="-3.78" font-size="42.34" textLength="14.76" lengthAdjust="spacingAndGlyphs" font-style="italic" class="sl">″</tspan></text>
<text transform="translate(341.0,808.0)" class="dim"><tspan x="-1.89" y="0.00" font-size="39.24" textLength="41.89" lengthAdjust="spacingAndGlyphs" stroke="#0a0a0a" stroke-width="0.30" stroke-linejoin="round">26</tspan> <tspan x="44.35" y="-15.79" font-size="23.55" textLength="14.77" lengthAdjust="spacingAndGlyphs" class="sm">9</tspan><tspan x="58.17" y="-0.00" font-size="36.21" textLength="10.98" lengthAdjust="spacingAndGlyphs" class="sl">/</tspan><tspan x="67.99" y="0.00" font-size="23.55" textLength="23.00" lengthAdjust="spacingAndGlyphs" class="sm">16</tspan><tspan x="87.15" y="-3.52" font-size="39.42" textLength="13.75" lengthAdjust="spacingAndGlyphs" font-style="italic" class="sl">″</tspan></text>
<text transform="translate(615.2,1123.4) rotate(90)" class="dim"><tspan x="-2.44" y="0.00" font-size="42.15" textLength="35.69" lengthAdjust="spacingAndGlyphs" stroke="#0a0a0a" stroke-width="0.36" stroke-linejoin="round">18</tspan> <tspan x="38.38" y="-16.96" font-size="25.29" textLength="14.00" lengthAdjust="spacingAndGlyphs" class="sm">7</tspan><tspan x="51.45" y="-0.00" font-size="38.90" textLength="11.85" lengthAdjust="spacingAndGlyphs" class="sl">/</tspan><tspan x="62.65" y="0.00" font-size="25.29" textLength="13.99" lengthAdjust="spacingAndGlyphs" class="sm">8</tspan><tspan x="72.38" y="-3.78" font-size="42.34" textLength="14.83" lengthAdjust="spacingAndGlyphs" font-style="italic" class="sl">″</tspan></text>
<text transform="translate(678.4,1117.8) rotate(90)" class="dim"><tspan x="-1.87" y="0.00" font-size="42.59" textLength="41.35" lengthAdjust="spacingAndGlyphs" stroke="#0a0a0a" stroke-width="0.30" stroke-linejoin="round">20</tspan> <tspan x="44.03" y="-17.14" font-size="25.55" textLength="9.41" lengthAdjust="spacingAndGlyphs" class="sm">1</tspan><tspan x="52.93" y="-0.00" font-size="39.30" textLength="11.04" lengthAdjust="spacingAndGlyphs" class="sl">/</tspan><tspan x="62.81" y="0.00" font-size="25.55" textLength="23.13" lengthAdjust="spacingAndGlyphs" class="sm">16</tspan><tspan x="82.07" y="-3.82" font-size="42.78" textLength="13.83" lengthAdjust="spacingAndGlyphs" font-style="italic" class="sl">″</tspan></text>
<text transform="translate(257.0,1379.6)" class="dim"><tspan x="-2.28" y="0.00" font-size="40.70" textLength="33.32" lengthAdjust="spacingAndGlyphs" stroke="#0a0a0a" stroke-width="0.40" stroke-linejoin="round">12</tspan><tspan x="28.15" y="-3.65" font-size="40.88" textLength="13.75" lengthAdjust="spacingAndGlyphs" font-style="italic" class="sl">″</tspan></text>
<text transform="translate(409.0,1433.0)" class="dim"><tspan x="-1.87" y="0.00" font-size="40.70" textLength="41.32" lengthAdjust="spacingAndGlyphs" stroke="#0a0a0a" stroke-width="0.30" stroke-linejoin="round">24</tspan> <tspan x="44.19" y="-16.38" font-size="24.42" textLength="12.48" lengthAdjust="spacingAndGlyphs" class="sm">7</tspan><tspan x="55.85" y="-0.00" font-size="37.56" textLength="10.56" lengthAdjust="spacingAndGlyphs" class="sl">/</tspan><tspan x="65.29" y="0.00" font-size="24.42" textLength="22.12" lengthAdjust="spacingAndGlyphs" class="sm">16</tspan><tspan x="83.72" y="-3.65" font-size="40.88" textLength="13.22" lengthAdjust="spacingAndGlyphs" font-style="italic" class="sl">″</tspan></text>
<text transform="translate(1163.0,833.0)" class="dim"><tspan x="-2.30" y="0.00" font-size="39.24" textLength="33.59" lengthAdjust="spacingAndGlyphs" stroke="#0a0a0a" stroke-width="0.35" stroke-linejoin="round">15</tspan> <tspan x="36.53" y="-15.79" font-size="23.55" textLength="12.65" lengthAdjust="spacingAndGlyphs" class="sm">3</tspan><tspan x="48.49" y="-0.00" font-size="36.21" textLength="11.16" lengthAdjust="spacingAndGlyphs" class="sl">/</tspan><tspan x="59.50" y="0.00" font-size="23.55" textLength="14.14" lengthAdjust="spacingAndGlyphs" class="sm">4</tspan><tspan x="69.91" y="-3.52" font-size="39.42" textLength="13.98" lengthAdjust="spacingAndGlyphs" font-style="italic" class="sl">″</tspan></text>
<text transform="translate(1148.0,1019.0)" class="dim"><tspan x="-1.82" y="0.00" font-size="37.79" textLength="20.16" lengthAdjust="spacingAndGlyphs" stroke="#0a0a0a" stroke-width="0.30" stroke-linejoin="round">2</tspan> <tspan x="22.32" y="-15.21" font-size="22.67" textLength="14.27" lengthAdjust="spacingAndGlyphs" class="sm">9</tspan><tspan x="35.67" y="-0.00" font-size="34.87" textLength="10.61" lengthAdjust="spacingAndGlyphs" class="sl">/</tspan><tspan x="45.15" y="0.00" font-size="22.67" textLength="22.21" lengthAdjust="spacingAndGlyphs" class="sm">16</tspan><tspan x="63.66" y="-3.39" font-size="37.96" textLength="13.28" lengthAdjust="spacingAndGlyphs" font-style="italic" class="sl">″</tspan></text>
<text transform="translate(1347.0,1165.0) rotate(90)" class="dim"><tspan x="-2.42" y="0.00" font-size="42.15" textLength="35.36" lengthAdjust="spacingAndGlyphs" stroke="#0a0a0a" stroke-width="0.37" stroke-linejoin="round">18</tspan> <tspan x="37.94" y="-16.96" font-size="25.29" textLength="10.00" lengthAdjust="spacingAndGlyphs" class="sm">1</tspan><tspan x="47.39" y="-0.00" font-size="38.90" textLength="11.74" lengthAdjust="spacingAndGlyphs" class="sl">/</tspan><tspan x="58.28" y="0.00" font-size="25.29" textLength="14.27" lengthAdjust="spacingAndGlyphs" class="sm">2</tspan><tspan x="68.13" y="-3.78" font-size="42.34" textLength="14.69" lengthAdjust="spacingAndGlyphs" font-style="italic" class="sl">″</tspan></text>
<text transform="translate(1174.0,1408.0)" class="dim"><tspan x="-1.50" y="0.00" font-size="40.70" textLength="20.77" lengthAdjust="spacingAndGlyphs" stroke="#0a0a0a" stroke-width="0.30" stroke-linejoin="round">5</tspan> <tspan x="23.98" y="-16.38" font-size="24.42" textLength="13.44" lengthAdjust="spacingAndGlyphs" class="sm">7</tspan><tspan x="36.53" y="-0.00" font-size="37.56" textLength="11.37" lengthAdjust="spacingAndGlyphs" class="sl">/</tspan><tspan x="47.28" y="0.00" font-size="24.42" textLength="13.43" lengthAdjust="spacingAndGlyphs" class="sm">8</tspan><tspan x="56.62" y="-3.65" font-size="40.88" textLength="14.24" lengthAdjust="spacingAndGlyphs" font-style="italic" class="sl">″</tspan></text>
<text transform="translate(1165.0,1462.0)" class="dim"><tspan x="-1.65" y="0.00" font-size="39.24" textLength="24.07" lengthAdjust="spacingAndGlyphs" stroke="#0a0a0a" stroke-width="0.70" stroke-linejoin="round">11</tspan> <tspan x="27.02" y="-15.79" font-size="23.55" textLength="21.49" lengthAdjust="spacingAndGlyphs" class="sm">13</tspan><tspan x="47.96" y="-0.00" font-size="36.21" textLength="10.78" lengthAdjust="spacingAndGlyphs" class="sl">/</tspan><tspan x="57.61" y="0.00" font-size="23.55" textLength="22.58" lengthAdjust="spacingAndGlyphs" class="sm">16</tspan><tspan x="76.42" y="-3.52" font-size="39.42" textLength="13.50" lengthAdjust="spacingAndGlyphs" font-style="italic" class="sl">″</tspan></text>
<text class="dim"><tspan x="1010.92" y="1081.00" font-size="24.71" textLength="11.74" lengthAdjust="spacingAndGlyphs" class="sm">7</tspan><tspan x="1023.70" y="1097.40" font-size="38.40" textLength="9.60" lengthAdjust="spacingAndGlyphs" class="sl">/</tspan><tspan x="1033.33" y="1097.70" font-size="24.27" textLength="13.75" lengthAdjust="spacingAndGlyphs" class="sm">8</tspan><tspan x="1042.98" y="1095.86" font-size="43.41" textLength="14.84" lengthAdjust="spacingAndGlyphs" font-style="italic" class="sl">″</tspan></text>
</g>
</svg>
</body>
</html>
